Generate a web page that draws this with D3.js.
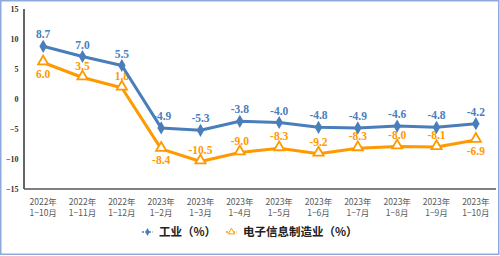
<!DOCTYPE html>
<html><head><meta charset="utf-8">
<script src="https://cdn.jsdelivr.net/npm/d3@7/dist/d3.min.js"></script>
<style>body{margin:0;background:#fff}svg{display:block}</style>
</head><body>
<script>
const years = ["2022年","2022年","2022年","2023年","2023年","2023年","2023年","2023年","2023年","2023年","2023年","2023年"];
const periods = ["1−10月","1−11月","1−12月","1−2月","1−3月","1−4月","1−5月","1−6月","1−7月","1−8月","1−9月","1−10月"];
const industry = [8.7, 7.0, 5.5, -4.9, -5.3, -3.8, -4.0, -4.8, -4.9, -4.6, -4.8, -4.2];
const electronics = [6.0, 3.5, 1.8, -8.4, -10.5, -9.0, -8.3, -9.2, -8.3, -8.0, -8.1, -6.9];
const elecLabelBelow = [true, false, false, true, false, false, false, false, false, false, false, true];
const yTicks = [15, 10, 5, 0, -5, -10, -15];
const seriesNames = ["工业（%）", "电子信息制造业（%）"];

const W = 500, H = 256;
const blue = "#4a7ebb", orange = "#ff9900";
const svg = d3.select("body").append("svg").attr("width", W).attr("height", H);

svg.append("rect").attr("x", 0.75).attr("y", 0.75).attr("width", W - 2).attr("height", H - 2.5)
  .attr("fill", "#fff").attr("stroke", "#8eaadb").attr("stroke-width", 1.5);

const idx = d3.range(industry.length);
const x = d3.scaleBand().domain(idx).range([23.5, 495.5]);
const y = d3.scaleLinear().domain([-15, 15]).range([188.5, 8.5]);
const cx = i => x(i) + x.bandwidth() / 2;

// y axis
const ya = svg.append("g").attr("transform", "translate(23.5,0)")
  .call(d3.axisLeft(y).tickValues(yTicks).tickSize(0).tickPadding(5).tickFormat(d3.format("d")));
ya.select(".domain").attr("stroke", "#333").attr("stroke-width", 1.5);
ya.selectAll("text").attr("font-family", "'Liberation Serif', serif").attr("font-weight", "bold")
  .attr("font-size", 8).attr("fill", "#333");

// x axis
const xa = svg.append("g").attr("transform", "translate(0,188.5)")
  .call(d3.axisBottom(x).tickSize(0).tickFormat(""));
xa.select(".domain").attr("stroke", "#555").attr("stroke-width", 1.5);
xa.selectAll(".tick").each(function(d) {
  const t = d3.select(this).append("text").attr("fill", "#595959")
    .attr("font-family", "'Noto Sans CJK SC', sans-serif").attr("font-size", 8.5)
    .attr("text-anchor", "middle");
  t.append("tspan").attr("x", 0).attr("y", 16).text(years[d]);
  t.append("tspan").attr("x", 0).attr("y", 27).text(periods[d]);
});

const lbl = {"font-family": "'Liberation Serif', serif", "font-weight": "bold", "font-size": 11.5};

// labels (drawn under lines)
svg.append("g").selectAll("text").data(idx).join("text")
  .attr("x", i => cx(i) + (i === 3 ? 1 : 0)).attr("y", i => y(industry[i]) - 8)
  .attr("text-anchor", "middle").attr("fill", blue)
  .attr("font-family", lbl["font-family"]).attr("font-weight", "bold").attr("font-size", lbl["font-size"])
  .text(i => industry[i].toFixed(1));
svg.append("g").selectAll("text").data(idx).join("text")
  .attr("x", cx).attr("y", i => elecLabelBelow[i] ? y(electronics[i]) + 15 : y(electronics[i]) - 8)
  .attr("text-anchor", "middle").attr("fill", orange)
  .attr("font-family", lbl["font-family"]).attr("font-weight", "bold").attr("font-size", lbl["font-size"])
  .text(i => electronics[i].toFixed(1));

// lines
const lineI = d3.line().x(cx).y(i => y(industry[i]));
const lineE = d3.line().x(cx).y(i => y(electronics[i]));
svg.append("path").attr("d", lineE(idx)).attr("fill", "none").attr("stroke", orange).attr("stroke-width", 3).attr("stroke-linejoin", "round");
svg.append("path").attr("d", lineI(idx)).attr("fill", "none").attr("stroke", blue).attr("stroke-width", 3).attr("stroke-linejoin", "round");

// markers
const tri = d3.symbol().type(d3.symbolTriangle).size(45);
svg.append("g").selectAll("path").data(idx).join("path")
  .attr("d", tri).attr("transform", i => `translate(${cx(i)},${y(electronics[i]) - 1})`)
  .attr("fill", "#fff").attr("stroke", orange).attr("stroke-width", 1.8);
const dia = d3.symbol().type(d3.symbolDiamond).size(50);
svg.append("g").selectAll("path").data(idx).join("path")
  .attr("d", dia).attr("transform", i => `translate(${cx(i)},${y(industry[i])})`)
  .attr("fill", blue);

// legend
const lg = svg.append("g");
function legendItem(x0, color, sym, name, filled) {
  lg.append("line").attr("x1", x0).attr("x2", x0 + 11).attr("y1", 232).attr("y2", 232)
    .attr("stroke", color).attr("stroke-width", 1.5).attr("stroke-dasharray", "2,1.5");
  lg.append("path").attr("d", d3.symbol().type(sym).size(18)).attr("transform", `translate(${x0 + 5.5},232)`)
    .attr("fill", filled ? color : "#fff").attr("stroke", color).attr("stroke-width", filled ? 0 : 1);
  lg.append("text").attr("x", x0 + 17).attr("y", 236).attr("fill", "#222")
    .attr("font-family", "'Noto Sans CJK SC', sans-serif").attr("font-weight", 600).attr("font-size", 11.5)
    .text(name);
}
legendItem(142, blue, d3.symbolDiamond, seriesNames[0], true);
legendItem(226, orange, d3.symbolTriangle, seriesNames[1], false);
</script>
</body></html>
